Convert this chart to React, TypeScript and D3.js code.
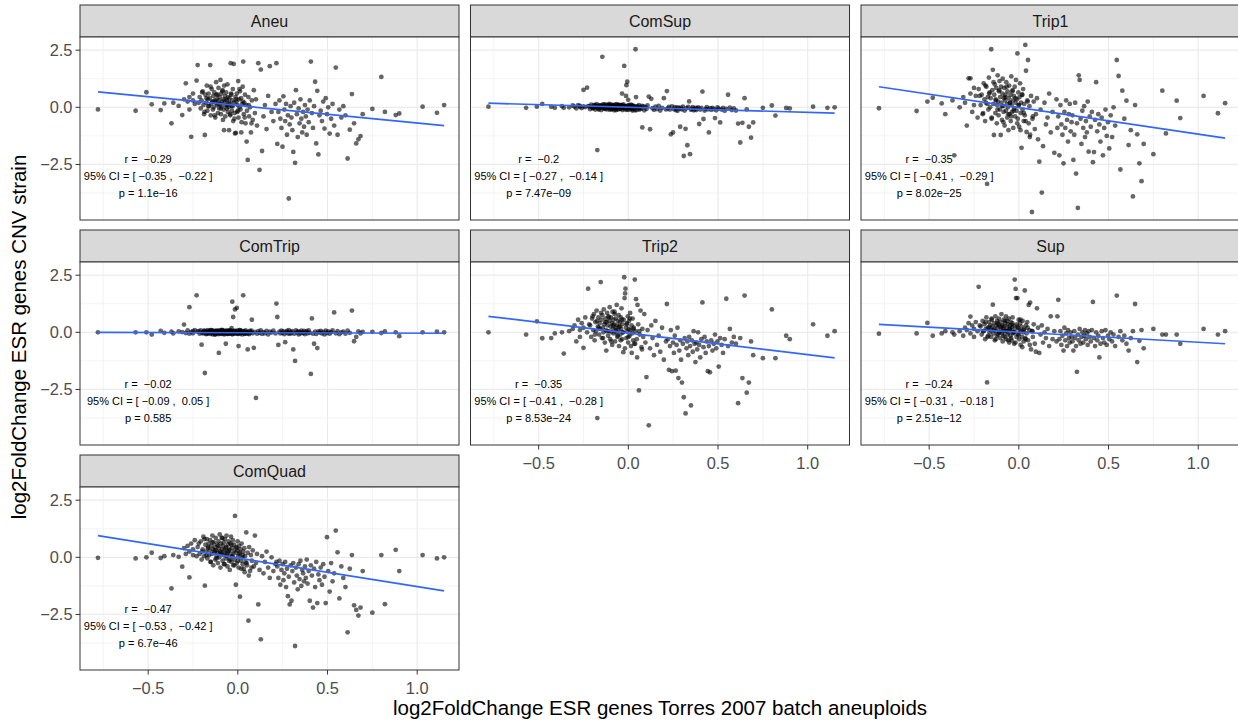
import React from "react";
import * as d3 from "d3";

const W = 1238;
const H = 723;

// Facet names (reading order) and correlation annotations
const panelNames = ["Aneu", "ComSup", "Trip1", "ComTrip", "Trip2", "Sup", "ComQuad"];
const rLabels = ["\u22120.29", "\u22120.2", "\u22120.35", "\u22120.02", "\u22120.35", "\u22120.24", "\u22120.47"];
const ciLow = ["\u22120.35", "\u22120.27", "\u22120.41", "\u22120.09", "\u22120.41", "\u22120.31", "\u22120.53"];
const ciHigh = ["\u22120.22", "\u22120.14", "\u22120.29", "0.05", "\u22120.28", "\u22120.18", "\u22120.42"];
const pLabels = ["1.1e\u221216", "7.47e\u221209", "8.02e\u221225", "0.585", "8.53e\u221224", "2.51e\u221212", "6.7e\u221246"];

// Fitted regression line endpoints
const fitX = [-0.78, 1.15];
const fitYStart = [0.68, 0.18, 0.9, 0.0, 0.7, 0.35, 0.95];
const fitYEnd = [-0.8, -0.25, -1.35, -0.04, -1.12, -0.5, -1.47];

// Axis ticks
const xTicks = [-0.5, 0, 0.5, 1.0];
const xMinor = [-0.75, -0.25, 0.25, 0.75];
const yTicks = [-2.5, 0, 2.5];
const yMinor = [-3.75, -1.25, 1.25];
const xDomain = [-0.88, 1.233];
const yDomain = [-4.93, 3.077];

// Shared x: log2FoldChange ESR genes, Torres 2007 batch aneuploids
const xTorres = [
  -0.78, -0.57, -0.51, -0.48, -0.43, -0.41, -0.37, -0.36, -0.33, -0.31, -0.30, -0.29, -0.28, -0.27, -0.27, -0.26, -0.25, -0.25, -0.24, -0.23,
  -0.224, -0.213, -0.207, -0.202, -0.196, -0.192, -0.188, -0.184, -0.181, -0.177, -0.173, -0.170, -0.167, -0.163, -0.160,
  -0.157, -0.154, -0.151, -0.148, -0.145, -0.142, -0.139, -0.137, -0.134, -0.131, -0.128, -0.126, -0.123, -0.121, -0.118,
  -0.116, -0.113, -0.111, -0.108, -0.106, -0.104, -0.101, -0.099, -0.097, -0.094, -0.092, -0.090, -0.088, -0.085, -0.083,
  -0.081, -0.079, -0.076, -0.074, -0.072, -0.070, -0.067, -0.065, -0.063, -0.061, -0.058, -0.056, -0.054, -0.052, -0.049,
  -0.047, -0.045, -0.042, -0.040, -0.038, -0.035, -0.033, -0.031, -0.028, -0.026, -0.023, -0.021, -0.018, -0.016, -0.013,
  -0.011, -0.008, -0.006, -0.003, -0.001, 0.002, 0.004, 0.007, 0.010, 0.012, 0.015, 0.018, 0.021, 0.024, 0.027,
  0.030, 0.033, 0.036, 0.040, 0.043, 0.047, 0.051, 0.055, 0.059, 0.063, 0.068, 0.073, 0.078, 0.083, 0.089,
  0.095, 0.101, 0.107, 0.114, 0.121, 0.128, 0.135, 0.143, 0.151, 0.160, 0.169, 0.178, 0.188, 0.198, 0.210,
  -0.218, -0.199, -0.186, -0.175, -0.165, -0.152, -0.141, -0.129, -0.119, -0.109, -0.095, -0.086, -0.077, -0.068, -0.059,
  -0.050, -0.043, -0.036, -0.029, -0.019, -0.009, 0.000, 0.009, 0.019, 0.028, 0.038, 0.049, 0.061, 0.076, 0.215,
  0.220, 0.226, 0.232, 0.237, 0.243, 0.249, 0.254, 0.259, 0.264, 0.269, 0.274, 0.279, 0.284, 0.289, 0.294,
  0.299, 0.304, 0.309, 0.314, 0.319, 0.324, 0.329, 0.334, 0.339, 0.344, 0.349, 0.354, 0.359, 0.364, 0.369,
  0.374, 0.379, 0.384, 0.389, 0.395, 0.401, 0.407, 0.413, 0.419, 0.425, 0.431, 0.437, 0.443, 0.449, 0.455,
  0.462, 0.469, 0.476, 0.483, 0.490, 0.497, 0.504, 0.512, 0.520, 0.528, 0.537, 0.546, 0.556, 0.566, 0.577,
  0.588, 0.600, 0.612, 0.624, 0.636, 0.648, 0.660, 0.672, 0.684, 0.696,
  0.75, 0.80, 0.82, 0.88, 0.90, 1.03, 1.11, 1.15,
];

// y: log2FoldChange ESR genes in each CNV strain
const aneuY = [
  -0.09, -0.15, 0.66, 0.13, -0.12, 0.17, -0.70, 0.20, 0.06, -0.34, 0.35, 1.05, 0.25, 0.45, -0.10, -1.29, 0.60, 0.30, 0.15, 1.17,
  1.85, 0.45, -0.05, 0.30, 0.70, 0.10, -0.30, -1.21, 0.55, 0.20, 0.95, -0.15, 0.35, 0.60, 0.05,
  0.40, 1.85, -0.35, 0.15, 0.80, 0.25, -0.10, 0.50, 0.00, 0.65, 0.30, -0.45, 0.20, 1.10, 0.35,
  0.10, 0.55, -0.25, 0.85, 0.30, -0.05, 0.45, 0.15, 1.20, -0.30, 0.60, 0.05, 0.25, 0.75, -0.55,
  0.35, -0.10, 0.95, 0.20, 0.50, -0.40, 0.10, 0.65, -0.05, 0.30, 1.00, -0.20, 0.45, 0.00, -1.00,
  0.40, 0.15, -0.35, 1.93, 0.60, 0.05, -0.15, 0.30, 0.80, -0.60, 1.90, 0.20, -0.25, -1.14, 0.45,
  -1.12, 0.25, 0.60, -0.20, 0.10, 1.15, -0.45, 0.35, 0.00, 0.70, -0.10, 0.40, -0.65, 0.15, 0.90,
  2.00, -0.30, 0.20, 0.55, -0.70, 0.10, -0.15, -2.30, 0.45, -0.40, 0.00, -1.10, 0.30, -0.55, 0.75,
  -0.25, 0.35, -0.80, 1.93, -2.74, 1.65, -1.91, -0.40, 0.10, -0.95, 0.50, 1.80, -0.20, -0.60, 0.15,
  0.20, 0.65, -0.20, 0.40, 0.05, 0.90, 0.25, -0.35, 0.55, 0.15, -0.05, 0.70, -1.00, 0.35, 0.10,
  0.20, -0.30, 0.55, 0.05, -0.50, 0.35, -0.15, 0.80, -1.10, 0.25, -0.45, -1.50, 0.10, -0.70, 1.93,
  -1.60, -0.20, 0.30, -0.50, -0.90, -1.72, 0.48, -0.10, -0.60, 0.15, -1.20, -0.35, -3.99, -0.75, 0.05,
  -0.45, -1.00, -1.95, 0.20, -2.43, 0.75, -0.30, -1.30, -0.05, -0.70, 0.35, -0.50, -1.10, -0.20, -0.85,
  0.10, -0.40, -1.20, -0.10, -0.65, 0.30, 2.00, -0.25, -0.90, 0.05, 1.12, -1.58, 0.72, -2.06, -0.35,
  -0.15, -0.60, 0.25, -0.93, 0.40, -0.30, 0.00, -1.15, -0.50, 0.15, -0.80, 1.74, -1.20, -0.10, -0.45,
  0.05, -0.35, -2.24, -0.98, 0.58, -0.70, -1.58, -1.40, -1.26, -0.30,
  -0.07, 1.33, -0.20, -0.34, -0.27, 0.03, -0.24, 0.10,
];

const comSupY = [
  0.03, -0.02, 0.03, 0.15, 0.02, -0.02, 0.05, -0.02, 0.00, 0.08, 0.03, -0.05, 0.10, 0.02, 0.06, -0.03, 0.76, 0.04, 0.01, 0.86,
  0.05, -0.08, 0.12, 0.02, -0.04, 0.09, 0.00, -0.10, 0.06, 0.14, -1.87, 0.03, -0.06, 0.10, -0.02,
  0.07, 0.01, -0.12, 0.04, 2.21, -0.03, 0.11, 0.05, -0.07, 0.02, 0.13, -0.01, 0.08, -0.09, 0.04,
  0.00, 0.10, -0.05, 0.06, 0.15, -0.11, 0.03, 0.08, -0.02, 0.12, 0.01, -0.08, 0.05, 0.09, -0.04,
  0.07, -0.13, 0.02, 0.11, -0.03, 0.06, 0.14, -0.06, 0.01, 0.09, -0.10, 0.04, 0.12, -0.01, 0.05,
  -0.07, 0.10, 0.03, -0.04, 0.08, 0.60, -0.12, 0.02, 0.13, -0.02, 1.81, 0.06, -0.09, 0.04, 0.50,
  0.97, -0.05, 1.12, 0.07, 0.33, -0.11, 0.02, 0.10, -0.06, 0.04, 0.12, -0.03, 0.08, -0.14, 0.01,
  0.06, -0.08, 0.03, 2.54, 0.45, -0.12, 0.05, -0.02, 0.09, -0.10, 0.00, -0.06, -0.88, 0.04, -0.13,
  0.02, -0.07, 0.08, 0.47, -0.96, 0.37, -0.04, -0.11, 0.03, -0.08, 0.06, -0.14, -0.02, 0.40, -0.09,
  0.04, -0.03, 0.09, 0.01, -0.10, 0.07, 0.13, -0.05, 0.02, 0.11, -0.08, 0.05, 0.00, -0.12, 0.08,
  0.03, -0.06, 0.10, -0.02, 0.05, -0.11, 0.07, 0.01, -0.09, 0.04, -0.13, 0.02, -0.05, 0.06, 0.71,
  -0.05, 0.02, -0.10, -1.18, 0.04, -1.10, -0.08, 0.01, -0.12, -0.03, -0.15, 0.00, -0.07, -0.85, -0.02,
  -0.09, 0.03, -2.13, -0.14, -0.94, -0.04, -1.66, 0.02, 0.26, -2.05, -0.11, -0.06, 0.01, -0.13, -0.08,
  -0.02, -0.12, -0.05, 0.00, -0.73, -0.10, -0.03, 0.69, -0.51, -0.14, -0.07, 0.01, -0.09, -1.10, -0.04,
  -0.11, -0.02, -0.08, -0.47, -0.13, 0.00, -0.06, -0.66, -0.10, -0.03, -0.15, -0.07, 0.55, -0.01, -0.12,
  -0.05, -0.14, -0.71, -1.54, -0.68, 0.40, -0.09, -0.85, -1.33, -0.66,
  -0.02, 0.08, -0.36, -0.03, -0.05, 0.03, -0.02, 0.00,
];

const trip1Y = [
  -0.04, -0.16, 0.25, 0.42, 0.17, -0.30, 0.30, -2.10, 0.00, 0.45, 0.20, -0.80, 1.27, 1.27, 0.60, -0.20, 0.85, 0.10, 0.50, -0.45,
  0.80, 0.10, 0.55, -0.30, 1.05, 0.35, -0.60, 0.20, 0.90, -3.35, 0.45, -0.10, 1.30, 0.65, 0.00,
  0.40, 2.54, -0.45, 0.75, 1.64, 0.15, -1.21, 0.55, 1.00, -0.25, 0.30, 0.85, -0.70, 0.10, 1.40,
  0.25, -0.35, 0.70, 1.15, -0.10, 0.45, -1.21, 0.90, 0.20, -0.55, 0.60, 1.25, 0.05, -0.20, 0.40,
  0.85, -0.80, 0.30, 0.55, -0.15, 1.10, 0.15, -0.45, 0.70, 0.00, -1.00, 0.40, 0.95, -0.30, 0.20,
  0.55, -0.60, 1.35, 0.10, -0.20, 0.75, 0.30, -0.90, 0.50, -0.05, 0.90, -0.40, 0.20, 1.20, -0.15,
  0.35, 2.36, -0.50, 0.65, 0.10, -0.85, 0.45, 1.05, -0.25, 0.20, -1.77, 0.55, -0.10, 0.80, -0.60,
  0.15, -0.35, 2.73, 1.60, -1.08, 0.30, 2.07, -0.70, 0.05, -1.20, 0.50, -4.58, -0.40, 0.25, -0.95,
  -0.30, 0.40, -1.40, -2.38, -0.10, -3.73, -1.70, 0.20, -0.75, -0.45, 0.60, -1.10, -0.20, -1.99, 0.35,
  0.50, -0.25, 0.95, 0.15, 0.60, -0.50, 1.10, 0.35, -0.10, 0.75, 0.05, -0.65, 0.45, 0.90, -0.30,
  0.20, -0.40, 0.70, -0.15, 0.40, -0.70, 0.10, -1.00, 0.55, -0.25, -0.60, 0.25, -1.30, -0.50, -0.90,
  -0.40, -2.10, 0.10, -0.75, -1.20, -2.45, -0.20, -0.90, 0.30, -0.55, -1.50, -0.30, 0.15, -1.05, -0.65,
  -0.35, -2.30, -1.20, 0.20, -2.90, -0.70, -4.40, 1.40, 1.20, -0.50, -1.60, -0.15, -0.90, 0.05, -1.30,
  -0.60, -1.10, 0.25, -1.94, -0.40, -0.85, -0.20, -2.40, -1.96, -0.55, 1.10, -1.05, -0.30, -0.75, -1.50,
  -0.45, -2.10, -0.90, -0.10, -1.25, -0.65, -1.80, -0.35, -1.30, 0.00, -0.80, 2.07, 1.37, -2.72, 0.73,
  -0.50, 0.29, -1.65, -1.00, -3.90, 0.10, -1.18, -2.45, -3.23, -1.60,
  -2.05, 0.73, -1.14, 0.29, -0.47, 0.50, -0.26, 0.18,
];

const comTripY = [
  0.00, 0.00, 0.00, -0.10, 0.06, -0.02, 0.03, -0.05, 0.04, 0.01, 0.34, -0.03, 0.08, 1.10, -0.06, 0.02, 0.05, -0.04, 0.10, 1.62,
  0.03, -0.06, 0.08, -0.54, 0.01, -0.04, 0.06, -1.78, 0.02, -0.08, 0.05, -0.02, 0.09, -0.05, 0.00,
  0.04, -0.07, 0.02, 0.10, -0.03, 0.06, -0.09, 0.01, 0.07, -0.04, 0.03, -0.10, 0.05, 0.00, -0.06,
  0.08, -0.02, 0.04, -0.08, -0.90, 0.02, -0.05, 0.09, -0.01, 0.06, -0.07, 0.03, 0.11, -0.04, 0.01,
  -0.03, 0.07, -0.09, 0.02, 0.05, -0.06, -0.50, 0.04, -0.02, 0.08, 0.00, -0.07, 0.03, -0.04, 0.06,
  0.01, -0.05, 0.09, -0.02, 0.04, 0.18, -0.08, 1.34, 0.03, 0.67, -0.03, 0.06, -0.06, 1.00, 0.02,
  -0.04, 0.07, 1.07, -0.01, 0.05, -0.07, -0.60, 0.03, -0.05, 0.09, 0.00, -0.03, 0.06, -0.09, 0.02,
  1.62, -0.02, 0.04, -0.06, 0.08, 0.01, -0.05, -0.75, 0.03, -0.08, 0.06, 0.00, 0.55, -0.04, -0.68,
  0.02, -2.87, -0.06, 0.05, -0.02, 0.08, -0.07, 0.01, -0.04, 0.06, -0.09, 0.03, -0.01, 0.07, -0.05,
  0.05, -0.03, 0.07, -0.06, 0.02, 0.10, -0.01, -0.08, 0.04, 0.00, -0.05, 0.08, -0.02, 0.03, -0.07,
  0.06, -0.04, 0.02, -0.08, 0.05, 0.00, -0.06, 0.09, -0.03, 0.04, -0.07, 0.01, -0.05, 0.07, 1.26,
  0.67, -0.55, 0.03, -0.05, 0.07, -0.02, 0.04, -0.08, -0.43, 0.01, 0.06, -0.04, 0.09, -0.07, 0.02,
  -0.03, 0.05, -0.75, -0.06, -1.25, 0.08, -0.01, 0.04, -0.09, 0.02, -0.05, 0.07, 0.00, -0.03, 0.06,
  -0.08, 0.01, 0.05, -0.04, 0.08, -0.02, -1.82, 0.61, -0.06, -0.50, 0.03, -0.07, -0.69, 0.04, -0.01,
  0.06, -0.05, 0.02, -0.09, 0.07, -0.03, 0.04, -0.06, 0.01, 0.08, 0.87, -0.04, 0.05, -0.08, 0.00,
  0.03, -0.06, 0.07, -0.02, 0.95, -0.39, -0.20, 0.04, -0.05, 0.02,
  0.02, -0.03, 0.04, 0.00, -0.17, 0.00, 0.03, 0.00,
];

const trip2Y = [
  0.00, -0.10, 0.48, -0.26, -0.25, -0.05, 0.00, -0.93, 0.05, 0.15, 0.30, -0.40, 0.55, 0.10, -0.20, 0.40, -0.68, 0.20, 0.65, 0.00,
  1.91, 0.30, -0.20, 0.60, 0.10, 0.80, -0.35, 0.45, 0.05, 0.95, -3.75, 0.25, 0.65, -0.10, 0.40,
  0.15, 2.20, 0.55, -0.25, 0.75, 0.20, 0.00, 1.00, 0.35, -0.45, 0.60, 0.10, -0.80, 0.45, 0.85,
  0.30, -0.15, 0.70, 0.05, 0.50, 1.10, -0.30, 0.25, 0.65, 0.00, 0.40, -0.55, 0.90, 0.15, 0.55,
  -0.05, 0.35, 0.80, -0.40, 0.20, 0.60, 0.00, 1.20, 0.30, -0.20, 0.50, 0.10, 0.75, -0.60, 0.25,
  0.45, -0.10, 0.65, 0.15, 1.05, -0.30, 0.35, 0.00, -0.87, 0.55, 2.41, 1.50, 1.70, 1.91, 0.20,
  -0.25, 0.40, 0.05, 0.70, -0.45, 0.15, 0.50, -0.15, 0.85, 0.10, -0.60, 0.30, -0.05, 0.60, -0.35,
  0.20, -0.50, 2.31, 0.05, 1.45, -0.30, 1.20, 0.35, -2.54, -0.10, 0.95, -0.65, 0.15, -0.20, 0.80,
  -0.45, -1.96, 0.10, -4.07, -0.70, 0.30, -0.25, -1.00, 0.50, -0.55, -0.15, -0.85, 0.20, -1.20, -0.40,
  0.35, 0.70, -0.10, 0.50, 0.20, 0.85, -0.25, 0.45, 0.05, 0.65, -0.40, 0.30, 0.90, 0.10, -0.15,
  0.25, -0.35, 0.55, 0.00, -0.70, 0.35, -0.20, 0.60, -0.90, 0.15, -0.50, -1.10, 0.05, -0.75, 1.24,
  -0.30, -1.64, -0.60, 0.10, -1.70, -0.45, -0.90, -0.15, -1.68, -0.55, 0.20, -2.00, -0.80, -0.35, -1.20,
  -2.20, -0.50, -2.84, -0.25, -3.55, -0.70, -0.40, -1.00, -0.20, -0.60, -3.20, -0.35, -0.85, 0.05, -0.50,
  -1.30, -0.45, -0.75, 0.00, -0.55, -1.10, -0.30, 1.31, -0.65, -0.20, -0.90, -0.40, -1.70, -0.60, -1.75,
  -0.35, -0.80, -0.50, -0.10, -0.70, -0.40, -1.50, -0.25, -0.55, -0.90, -0.30, 1.47, -0.60, 0.15, -0.45,
  -0.20, -0.50, -3.10, -0.25, -2.00, 1.61, -2.64, -2.20, -0.40, -1.00,
  -1.13, 1.00, -1.13, -0.15, -0.30, 0.35, -0.15, 0.05,
];

const supY = [
  -0.06, -0.05, 0.41, -0.15, -0.05, 0.05, 0.00, -0.10, 0.05, -0.15, 0.20, 0.10, 0.40, 0.69, -0.05, 0.30, 0.15, -0.20, 0.45, 0.05,
  1.99, 0.25, -0.10, 0.50, 0.05, 0.35, -0.30, 0.15, 0.65, -2.19, 0.20, -0.15, 0.45, 0.00, 0.30,
  0.10, -0.20, 0.55, 0.25, 1.21, -0.05, 0.40, 0.15, -0.35, 0.70, 0.05, 0.30, -0.15, 0.50, 0.20,
  -0.10, 0.35, 0.60, 0.00, 0.25, -0.25, 0.45, 0.10, 0.80, -0.05, 0.30, -0.40, 0.15, 0.55, 0.05,
  0.25, -0.20, 0.40, 0.05, 0.70, -0.30, 0.20, 0.50, -0.10, 0.35, 0.00, 0.60, -0.45, 0.15, 0.30,
  -0.15, 0.45, 0.10, -0.35, 0.25, 0.65, -0.05, 0.30, 0.00, -0.50, 2.31, 0.15, 1.90, 1.50, -0.20,
  0.35, 1.50, -0.10, 0.20, 0.55, -0.30, 0.10, 0.40, -0.55, 0.05, 0.25, -0.20, 0.50, 0.00, -0.40,
  0.15, 1.83, -0.25, 0.30, -0.05, 0.45, -0.35, 1.20, 0.10, 1.30, -0.75, 0.05, -0.20, 0.35, -0.50,
  -0.85, 1.05, 0.20, -0.90, -0.10, 0.30, -0.45, 0.00, -0.25, 0.15, -0.60, 0.70, -0.30, 0.05, -0.40,
  0.30, 0.05, 0.45, -0.20, 0.20, 0.60, 0.10, -0.30, 0.40, 0.00, 0.25, -0.15, 0.50, 0.05, -0.35,
  0.15, -0.25, 0.40, 0.00, -0.45, 0.25, -0.10, 0.55, -0.65, 0.10, -0.30, 0.20, -0.55, 0.05, 0.70,
  1.42, -0.30, 0.05, -0.55, -0.15, -0.80, 0.20, -0.35, -0.05, -0.60, 0.10, -0.25, -0.45, 0.00, -0.20,
  -0.40, -0.80, 0.05, -0.25, -0.60, -1.73, -0.10, -0.35, 0.15, -0.50, -0.20, 0.00, -0.45, -0.15, 0.10,
  -0.30, -0.05, -0.55, 0.05, -0.20, -0.40, 0.10, 1.33, -0.25, -0.60, 0.00, -0.35, -0.15, -1.10, -0.50,
  0.05, -0.25, -0.45, 0.10, -0.55, -0.15, -0.30, 0.00, -0.40, -0.10, -0.60, 1.61, -0.20, 0.05, -0.35,
  -0.15, -0.50, -0.80, -0.25, 0.05, 1.24, -1.30, -0.37, 0.10, -0.70,
  0.15, -0.10, -0.10, -0.10, -0.50, 0.15, -0.10, 0.05,
];

const comQuadY = [
  -0.02, -0.05, 0.00, 0.20, -0.03, 0.05, -1.36, 0.10, 0.02, -0.41, 0.40, 0.15, 0.50, -0.88, 0.25, 0.60, 0.10, 0.35, 0.75, 0.05,
  0.45, 0.15, 0.70, -0.10, 0.35, 0.90, 0.05, -1.24, 0.55, 0.25, 0.80, -0.05, 0.40, 0.60, 0.10,
  0.30, 0.75, -0.20, 0.50, 0.15, 0.95, 0.35, -0.35, 0.65, 0.20, 0.45, -0.10, 0.85, 0.30, 0.05,
  0.55, 0.20, -0.25, 0.70, 0.40, 0.00, 1.00, 0.25, -0.45, 0.60, 0.15, 0.85, 0.35, -0.15, 0.50,
  0.10, 0.65, 0.30, -0.30, 0.80, 0.20, -0.05, 0.45, 0.95, 0.15, -0.40, 0.55, 0.25, 0.70, -0.15,
  0.35, -0.55, 0.60, 0.15, 0.90, -0.20, 0.40, 0.05, 0.75, -0.35, 0.25, 0.55, -0.10, 1.81, 0.20,
  -1.20, 0.45, -0.25, 0.30, 0.70, 0.05, -0.45, 0.50, 0.15, -1.72, 0.35, -0.15, 0.60, 0.00, -0.30,
  0.25, -0.50, 0.40, 0.05, -0.20, 1.09, -0.35, 0.20, -2.77, 0.45, -0.60, 0.10, -0.15, 0.30, -0.40,
  0.95, -0.25, 0.15, -2.06, -0.55, -3.59, 0.05, -0.70, -0.20, 0.25, -0.45, -0.90, 0.00, -0.60, -0.30,
  0.60, 0.25, 0.80, 0.10, 0.45, -0.20, 0.65, 0.30, -0.05, 0.50, 0.20, 0.85, -0.30, 0.40, 0.05,
  0.30, -0.10, 0.55, 0.05, -0.35, 0.40, -0.15, 0.20, -0.50, 0.10, -0.65, -0.25, -0.80, -0.45, -0.20,
  -0.40, -0.90, -0.15, -1.20, -0.55, -0.30, -1.00, -0.70, -0.20, -1.30, -0.50, -1.70, -0.85, -2.06, -0.35,
  -1.90, -0.60, -0.25, -1.10, -3.88, -0.45, -0.80, -1.40, -0.30, -0.95, -0.15, -1.25, -0.55, -0.70, -1.05,
  -0.40, -0.90, -0.10, -1.15, -0.60, -1.90, -0.35, -0.80, -2.20, -0.50, -1.30, -0.20, -2.00, -0.75, -1.00,
  -0.45, -1.20, -0.30, -0.85, -2.00, 0.88, -0.60, -1.50, -0.25, -1.05, -0.70, 1.17, 0.22, -1.80, -0.40,
  -0.90, -1.30, -3.28, -0.50, 0.10, -2.10, -2.30, -2.55, -2.20, -0.60,
  -2.42, 0.10, -2.05, 0.33, -0.60, 0.10, -0.05, 0.00,
];

const seriesY = [aneuY, comSupY, trip1Y, comTripY, trip2Y, supY, comQuadY];

// Layout
const PANEL_LEFT = 80;
const COL_STEP = 390.5;
const PANEL_W = 379;
const ROW_TOP = 5;
const ROW_STEP = 225;
const STRIP_H = 32;
const PANEL_H = 183;

const FONT = '"Liberation Sans", Arial, Helvetica, sans-serif';
const fmt = d3.format(".1f");

export default function App() {
  const x = d3.scaleLinear().domain(xDomain).range([0, PANEL_W]);
  const y = d3.scaleLinear().domain(yDomain).range([PANEL_H, 0]);
  const line = d3
    .line<[number, number]>()
    .x((d) => x(d[0]))
    .y((d) => y(d[1]));

  return (
    <svg
      width={W}
      height={H}
      style={{ position: "absolute", left: 0, top: 0, fontFamily: FONT }}
    >
      <rect width={W} height={H} fill="#ffffff" />
      <defs>
        <clipPath id="panelClip">
          <rect x={0} y={0} width={PANEL_W} height={PANEL_H} />
        </clipPath>
      </defs>
      {panelNames.map((name, i) => {
        const col = i % 3;
        const row = Math.floor(i / 3);
        const left = PANEL_LEFT + col * COL_STEP;
        const top = ROW_TOP + row * ROW_STEP;
        const ptop = top + STRIP_H;
        const ys = seriesY[i];
        const n = Math.min(ys.length, xTorres.length);
        const pts = d3.range(n).map((k) => [xTorres[k], ys[k]] as [number, number]);
        const showX = i >= 4;
        const showY = col === 0;
        const ax = x(-0.5);
        return (
          <g key={name}>
            <rect x={left} y={top} width={PANEL_W} height={STRIP_H} fill="#D9D9D9" stroke="#333333" strokeWidth={1} />
            <text x={left + PANEL_W / 2} y={top + STRIP_H / 2} textAnchor="middle" dominantBaseline="central" fontSize={16} fill="#1A1A1A">
              {name}
            </text>
            <g transform={`translate(${left},${ptop})`}>
              <rect width={PANEL_W} height={PANEL_H} fill="#ffffff" />
              {xMinor.map((t) => (
                <line key={"xm" + t} x1={x(t)} x2={x(t)} y1={0} y2={PANEL_H} stroke="#EBEBEB" strokeWidth={0.6} />
              ))}
              {yMinor.map((t) => (
                <line key={"ym" + t} x1={0} x2={PANEL_W} y1={y(t)} y2={y(t)} stroke="#EBEBEB" strokeWidth={0.6} />
              ))}
              {xTicks.map((t) => (
                <line key={"xg" + t} x1={x(t)} x2={x(t)} y1={0} y2={PANEL_H} stroke="#EBEBEB" strokeWidth={1.2} />
              ))}
              {yTicks.map((t) => (
                <line key={"yg" + t} x1={0} x2={PANEL_W} y1={y(t)} y2={y(t)} stroke="#EBEBEB" strokeWidth={1.2} />
              ))}
              <g clipPath="url(#panelClip)">
                {pts.map((d, k) => (
                  <circle key={k} cx={x(d[0])} cy={y(d[1])} r={2.4} fill="#000000" fillOpacity={0.6} />
                ))}
                <path
                  d={line([
                    [fitX[0], fitYStart[i]],
                    [fitX[1], fitYEnd[i]],
                  ]) || ""}
                  fill="none"
                  stroke="#3366FF"
                  strokeWidth={1.7}
                />
              </g>
              <g fontSize={11} fill="#000000" textAnchor="middle" style={{ whiteSpace: "pre" }}>
                <text xmlSpace="preserve" x={ax} y={y(-2.28)} dominantBaseline="central">{`r =  ${rLabels[i]}`}</text>
                <text xmlSpace="preserve" x={ax} y={y(-3.02)} dominantBaseline="central">{`95% CI = [ ${ciLow[i]} ,  ${ciHigh[i]} ]`}</text>
                <text xmlSpace="preserve" x={ax} y={y(-3.74)} dominantBaseline="central">{`p = ${pLabels[i]}`}</text>
              </g>
              <rect width={PANEL_W} height={PANEL_H} fill="none" stroke="#333333" strokeWidth={1} />
              {showY &&
                yTicks.map((t) => (
                  <g key={"yt" + t}>
                    <line x1={-4.5} x2={0} y1={y(t)} y2={y(t)} stroke="#333333" strokeWidth={1} />
                    <text x={-7.5} y={y(t)} textAnchor="end" dominantBaseline="central" fontSize={16.4} fill="#4D4D4D">
                      {fmt(t)}
                    </text>
                  </g>
                ))}
              {showX &&
                xTicks.map((t) => (
                  <g key={"xt" + t}>
                    <line x1={x(t)} x2={x(t)} y1={PANEL_H} y2={PANEL_H + 4.5} stroke="#333333" strokeWidth={1} />
                    <text x={x(t)} y={PANEL_H + 17.5} textAnchor="middle" dominantBaseline="central" fontSize={16.4} fill="#4D4D4D">
                      {fmt(t)}
                    </text>
                  </g>
                ))}
            </g>
          </g>
        );
      })}
      <text x={660} y={707} textAnchor="middle" dominantBaseline="central" fontSize={20.5} fill="#000000">
        log2FoldChange ESR genes Torres 2007 batch aneuploids
      </text>
      <text
        transform={`translate(18,337) rotate(-90)`}
        textAnchor="middle"
        dominantBaseline="central"
        fontSize={20.5}
        fill="#000000"
      >
        log2FoldChange ESR genes CNV strain
      </text>
    </svg>
  );
}
